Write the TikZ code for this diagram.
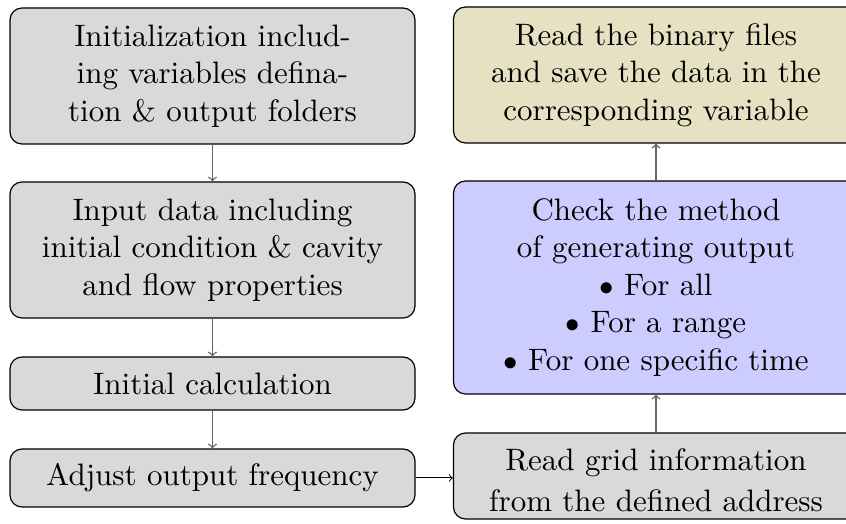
\documentclass[tikz,border=0pt]{standalone}
\usepackage{fontspec}
\setmainfont{lmroman10-regular}[Extension=.otf, BoldFont=lmroman10-bold, ItalicFont=lmroman10-italic]
\begin{document}
\begin{tikzpicture}[x=1pt,y=1pt,
  box/.style={draw=black, line width=0.6pt, rounded corners=6pt, align=center,
    minimum width=202.5pt, inner sep=0pt,
    font=\fontsize{15.5}{18.75}\selectfont},
  grayfill/.style={box, fill=gray!30},
  tanfill/.style={box, fill=tanbox},
  bluefill/.style={box, fill=blue!20},
  flowgray/.style={draw=gray!120, line width=0.7pt, ->},
  flowblack/.style={draw=black, line width=0.5pt, ->}
]
\definecolor{tanbox}{RGB}{230,225,195}
\useasboundingbox (0,0) rectangle (423,262);

% left column
\node[grayfill, minimum height=68pt] (init) at (106.25,224)
  {Initialization includ-\\ing variables defina-\\tion \& output folders};
\node[grayfill, minimum height=68pt] (input) at (106.25,137)
  {Input data including\\initial condition \& cavity\\and flow properties};
\node[grayfill, minimum height=26.5pt] (calc) at (106.25,70.25)
  {Initial calculation};
\node[grayfill, minimum height=29pt] (freq) at (106.25,23)
  {Adjust output frequency};

% right column (the strut lowers the two lines a little in the box)
\node[grayfill, minimum height=43pt] (grid) at (328,24)
  {\rule{0pt}{15pt}Read grid information\\[2pt]from the defined address};
\node[bluefill, minimum height=106.5pt] (check) at (328,118.25)
  {Check the method\\of generating output\\$\bullet$ For all\\$\bullet$ For a range\\$\bullet$ For one specific time};
\node[tanfill, minimum height=68pt] (read) at (328,224.5)
  {Read the binary files\\and save the data in the\\corresponding variable};

% connectors
\draw[flowgray] (init) -- (input);
\draw[flowgray] (input) -- (calc);
\draw[flowgray] (calc) -- (freq);
\draw[flowblack] (freq.east) -- (freq.east -| grid.west);
\draw[flowgray] (grid) -- (check);
\draw[flowgray] (check) -- (read);
\end{tikzpicture}
\end{document}
